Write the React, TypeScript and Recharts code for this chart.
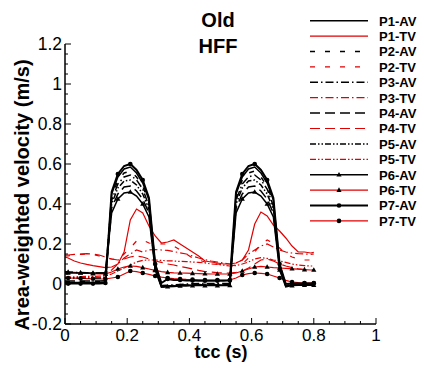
import React from 'react';
import { LineChart, Line, XAxis, YAxis } from 'recharts';

const FONT = 'Liberation Sans, Arial, Helvetica, sans-serif';
const RED = '#e00000';
const BLACK = '#000000';

const TIME = [0, 0.01, 0.03, 0.05, 0.07, 0.09, 0.11, 0.13, 0.15, 0.17, 0.19, 0.21, 0.23, 0.25, 0.27, 0.29, 0.31, 0.33, 0.35, 0.37, 0.39, 0.41, 0.43, 0.45, 0.47, 0.49, 0.51, 0.53, 0.55, 0.57, 0.59, 0.61, 0.63, 0.65, 0.67, 0.69, 0.71, 0.73, 0.75, 0.77, 0.79, 0.8];

const P1_AV = [0.008, 0.008, 0.008, 0.008, 0.008, 0.008, 0.008, 0.01, 0.45, 0.535, 0.575, 0.585, 0.555, 0.505, 0.42, 0.1, -0.012, -0.012, -0.01, -0.008, -0.007, -0.006, -0.005, -0.005, -0.005, -0.005, -0.005, -0.004, 0.45, 0.535, 0.575, 0.585, 0.555, 0.505, 0.42, 0.1, -0.01, -0.005, -0.003, -0.003, -0.003, -0.003];
const P1_TV = [0.135, 0.13, 0.115, 0.105, 0.098, 0.092, 0.087, 0.082, 0.085, 0.1, 0.16, 0.32, 0.375, 0.355, 0.29, 0.24, 0.205, 0.21, 0.22, 0.2, 0.18, 0.16, 0.14, 0.115, 0.11, 0.105, 0.1, 0.1, 0.105, 0.12, 0.17, 0.3, 0.36, 0.34, 0.295, 0.265, 0.23, 0.19, 0.16, 0.16, 0.155, 0.158];
const P2_AV = [0.012, 0.012, 0.012, 0.012, 0.012, 0.012, 0.012, 0.014, 0.43, 0.52, 0.555, 0.565, 0.535, 0.49, 0.405, 0.09, -0.01, -0.01, -0.008, -0.006, -0.005, -0.004, -0.003, -0.003, -0.003, -0.003, -0.003, -0.002, 0.43, 0.52, 0.555, 0.565, 0.535, 0.49, 0.405, 0.09, -0.008, -0.004, -0.002, -0.002, -0.002, -0.002];
const P2_TV = [0.14, 0.14, 0.145, 0.148, 0.15, 0.148, 0.14, 0.13, 0.125, 0.12, 0.15, 0.18, 0.215, 0.22, 0.205, 0.2, 0.2, 0.2, 0.19, 0.17, 0.15, 0.13, 0.12, 0.11, 0.105, 0.1, 0.095, 0.09, 0.095, 0.1, 0.13, 0.16, 0.2, 0.22, 0.205, 0.18, 0.15, 0.135, 0.125, 0.12, 0.12, 0.12];
const P3_AV = [0.062, 0.06, 0.058, 0.057, 0.056, 0.055, 0.055, 0.055, 0.42, 0.5, 0.535, 0.545, 0.52, 0.475, 0.39, 0.09, -0.008, -0.006, -0.004, -0.002, 0, 0.001, 0.002, 0.002, 0.002, 0.002, 0.002, 0.003, 0.42, 0.5, 0.535, 0.545, 0.52, 0.475, 0.39, 0.09, -0.006, 0, 0.002, 0.002, 0.002, 0.002];
const P3_TV = [0.06, 0.06, 0.058, 0.056, 0.055, 0.054, 0.053, 0.055, 0.07, 0.1, 0.13, 0.15, 0.17, 0.16, 0.17, 0.172, 0.17, 0.168, 0.162, 0.156, 0.15, 0.14, 0.13, 0.122, 0.115, 0.11, 0.105, 0.1, 0.105, 0.12, 0.15, 0.17, 0.19, 0.2, 0.185, 0.17, 0.16, 0.155, 0.152, 0.15, 0.148, 0.15];
const P4_AV = [0.015, 0.015, 0.015, 0.015, 0.015, 0.015, 0.015, 0.016, 0.38, 0.45, 0.485, 0.49, 0.465, 0.425, 0.355, 0.08, -0.012, -0.01, -0.008, -0.006, -0.005, -0.004, -0.004, -0.004, -0.004, -0.004, -0.004, -0.003, 0.38, 0.45, 0.485, 0.49, 0.465, 0.425, 0.355, 0.08, -0.01, -0.004, -0.003, -0.003, -0.003, -0.003];
const P4_TV = [0.145, 0.145, 0.148, 0.15, 0.152, 0.15, 0.145, 0.135, 0.125, 0.12, 0.125, 0.135, 0.14, 0.135, 0.125, 0.115, 0.108, 0.1, 0.095, 0.088, 0.082, 0.075, 0.068, 0.062, 0.06, 0.057, 0.055, 0.055, 0.058, 0.065, 0.08, 0.1, 0.12, 0.125, 0.115, 0.1, 0.09, 0.082, 0.076, 0.072, 0.07, 0.07];
const P5_AV = [0.03, 0.03, 0.03, 0.03, 0.03, 0.03, 0.03, 0.03, 0.4, 0.48, 0.515, 0.52, 0.495, 0.45, 0.375, 0.08, -0.014, -0.012, -0.01, -0.008, -0.007, -0.006, -0.006, -0.006, -0.006, -0.006, -0.006, -0.005, 0.4, 0.48, 0.515, 0.52, 0.495, 0.45, 0.375, 0.08, -0.012, -0.006, -0.004, -0.004, -0.004, -0.004];
const P5_TV = [0.035, 0.035, 0.036, 0.037, 0.038, 0.038, 0.039, 0.04, 0.05, 0.065, 0.08, 0.095, 0.11, 0.118, 0.12, 0.12, 0.118, 0.116, 0.115, 0.113, 0.112, 0.11, 0.108, 0.105, 0.1, 0.098, 0.094, 0.09, 0.092, 0.1, 0.11, 0.125, 0.132, 0.128, 0.12, 0.115, 0.108, 0.1, 0.095, 0.092, 0.09, 0.09];
const P6_AV = [0.055, 0.055, 0.055, 0.055, 0.055, 0.055, 0.055, 0.056, 0.355, 0.425, 0.455, 0.46, 0.44, 0.4, 0.335, 0.07, -0.016, -0.014, -0.012, -0.01, -0.009, -0.008, -0.008, -0.008, -0.008, -0.008, -0.008, -0.007, 0.355, 0.425, 0.455, 0.46, 0.44, 0.4, 0.335, 0.07, -0.014, -0.008, -0.006, -0.006, -0.006, -0.006];
const P6_TV = [0.06, 0.06, 0.058, 0.056, 0.054, 0.052, 0.05, 0.05, 0.06, 0.075, 0.085, 0.09, 0.088, 0.082, 0.075, 0.068, 0.062, 0.058, 0.056, 0.055, 0.054, 0.053, 0.052, 0.051, 0.05, 0.05, 0.05, 0.05, 0.055, 0.065, 0.075, 0.085, 0.088, 0.085, 0.082, 0.08, 0.078, 0.076, 0.074, 0.072, 0.07, 0.07];
const P7_AV = [0.002, 0.002, 0.002, 0.002, 0.002, 0.002, 0.002, 0.005, 0.46, 0.55, 0.59, 0.6, 0.57, 0.52, 0.43, 0.1, 0.005, 0.025, 0.02, 0.02, 0.018, 0.017, 0.016, 0.016, 0.016, 0.016, 0.016, 0.018, 0.46, 0.55, 0.59, 0.6, 0.57, 0.52, 0.43, 0.1, 0, 0.003, 0.003, 0.003, 0.003, 0.003];
const P7_TV = [0.03, 0.03, 0.029, 0.028, 0.027, 0.026, 0.025, 0.025, 0.03, 0.035, 0.05, 0.065, 0.062, 0.055, 0.048, 0.04, 0.034, 0.03, 0.027, 0.025, 0.023, 0.022, 0.021, 0.02, 0.02, 0.02, 0.02, 0.02, 0.03, 0.045, 0.052, 0.055, 0.053, 0.05, 0.04, 0.03, 0.018, 0.01, 0.007, 0.005, 0.005, 0.005];

const X_TICKS = [0, 0.05, 0.1, 0.15, 0.2, 0.25, 0.3, 0.35, 0.4, 0.45, 0.5, 0.55, 0.6, 0.65, 0.7, 0.75, 0.8, 0.85, 0.9, 0.95, 1];
const Y_TICKS = [-0.2, -0.15, -0.1, -0.05, 0, 0.05, 0.1, 0.15, 0.2, 0.25, 0.3, 0.35, 0.4, 0.45, 0.5, 0.55, 0.6, 0.65, 0.7, 0.75, 0.8, 0.85, 0.9, 0.95, 1, 1.05, 1.1, 1.15, 1.2];

const TITLE_LINES = ['Old', 'HFF'];
const X_LABEL = 'tcc (s)';
const Y_LABEL = 'Area-weighted velocity (m/s)';

type Marker = 'none' | 'tri' | 'circ';
interface SeriesDef { key: string; name: string; values: number[]; color: string; dash?: string; marker: Marker; width: number; }

const DASH_SHORT = '5 10';
const DASH_DOT = '8 3 1.5 3';
const DASH_LONG = '10 5';
const DASH_DOT_DOT = '6 2 1.5 2 1.5 2';

const SERIES: SeriesDef[] = [
  { key: 'p1av', name: 'P1-AV', values: P1_AV, color: BLACK, marker: 'none', width: 1.5 },
  { key: 'p1tv', name: 'P1-TV', values: P1_TV, color: RED, marker: 'none', width: 1.2 },
  { key: 'p2av', name: 'P2-AV', values: P2_AV, color: BLACK, dash: DASH_SHORT, marker: 'none', width: 1.5 },
  { key: 'p2tv', name: 'P2-TV', values: P2_TV, color: RED, dash: DASH_SHORT, marker: 'none', width: 1.2 },
  { key: 'p3av', name: 'P3-AV', values: P3_AV, color: BLACK, dash: DASH_DOT, marker: 'none', width: 1.5 },
  { key: 'p3tv', name: 'P3-TV', values: P3_TV, color: RED, dash: DASH_DOT, marker: 'none', width: 1.2 },
  { key: 'p4av', name: 'P4-AV', values: P4_AV, color: BLACK, dash: DASH_LONG, marker: 'none', width: 1.5 },
  { key: 'p4tv', name: 'P4-TV', values: P4_TV, color: RED, dash: DASH_LONG, marker: 'none', width: 1.2 },
  { key: 'p5av', name: 'P5-AV', values: P5_AV, color: BLACK, dash: DASH_DOT_DOT, marker: 'none', width: 1.5 },
  { key: 'p5tv', name: 'P5-TV', values: P5_TV, color: RED, dash: DASH_DOT_DOT, marker: 'none', width: 1.2 },
  { key: 'p6av', name: 'P6-AV', values: P6_AV, color: BLACK, marker: 'tri', width: 1.5 },
  { key: 'p6tv', name: 'P6-TV', values: P6_TV, color: RED, marker: 'tri', width: 1.2 },
  { key: 'p7av', name: 'P7-AV', values: P7_AV, color: BLACK, marker: 'circ', width: 2 },
  { key: 'p7tv', name: 'P7-TV', values: P7_TV, color: RED, marker: 'circ', width: 1.2 },
];

const rows = TIME.map((t, i) => {
  const r: Record<string, number> = { t };
  SERIES.forEach((s) => { r[s.key] = s.values[i]; });
  return r;
});

const isMajor = (v: number) => Math.abs(v * 5 - Math.round(v * 5)) < 1e-6;
const fmt = (v: number) => String(Number(v.toFixed(2)));

const XTick = (props: any) => {
  const { x, y, payload } = props;
  const v = payload.value as number;
  const major = isMajor(v);
  return (
    <g>
      <line x1={x} x2={x} y1={y} y2={y - (major ? 6 : 3)} stroke={BLACK} strokeWidth={1} />
      {major && (
        <text x={x} y={y + 16.5} textAnchor="middle" fontSize={17} fontFamily={FONT} fill={BLACK}>{fmt(v)}</text>
      )}
    </g>
  );
};

const YTick = (props: any) => {
  const { x, y, payload } = props;
  const v = payload.value as number;
  const major = isMajor(v);
  return (
    <g>
      <line x1={x} x2={x + (major ? 6 : 3)} y1={y} y2={y} stroke={BLACK} strokeWidth={1} />
      {major && (
        <text x={x - 3} y={y + 6.2} textAnchor="end" fontSize={17.5} fontFamily={FONT} fill={BLACK}>{fmt(v)}</text>
      )}
    </g>
  );
};

const markerShape = (kind: Marker, cx: number, cy: number, key: string) => {
  if (kind === 'circ') return <circle key={key} cx={cx} cy={cy} r={2.3} fill={BLACK} />;
  return <path key={key} d={`M${cx},${cy - 2.8}L${cx + 2.6},${cy + 1.8}L${cx - 2.6},${cy + 1.8}Z`} fill={BLACK} />;
};

const makeDot = (s: SeriesDef) => (props: any) => {
  const { cx, cy, index } = props;
  const key = `${s.key}-${index}`;
  if (index % 2 !== 1 || cx == null || cy == null) return <g key={key} />;
  return markerShape(s.marker, cx, cy, key);
};

const Overlay = () => {
  const rowY = (k: number) => 20.7 + 15.4 * k;
  return (
    <svg width={424} height={368} style={{ position: 'absolute', left: 0, top: 0, pointerEvents: 'none' }}>
      <text x={218} y={27} textAnchor="middle" fontSize={20} fontWeight="bold" fontFamily={FONT}>{TITLE_LINES[0]}</text>
      <text x={218} y={53} textAnchor="middle" fontSize={20} fontWeight="bold" fontFamily={FONT}>{TITLE_LINES[1]}</text>
      <text x={221} y={358} textAnchor="middle" fontSize={18} fontWeight="bold" fontFamily={FONT}>{X_LABEL}</text>
      <text x={29} y={195} textAnchor="middle" fontSize={20} fontWeight="bold" fontFamily={FONT} transform="rotate(-90 29 195)">{Y_LABEL}</text>
      {SERIES.map((s, k) => (
        <g key={s.key}>
          <line x1={310} x2={368} y1={rowY(k)} y2={rowY(k)} stroke={s.color} strokeWidth={s.width} strokeDasharray={s.dash} />
          {s.marker !== 'none' && markerShape(s.marker, 339, rowY(k), `lm-${s.key}`)}
          <text x={379} y={rowY(k) + 4.8} fontSize={13} fontWeight="bold" fontFamily={FONT}>{s.name}</text>
        </g>
      ))}
    </svg>
  );
};

export default function App() {
  const ordered = [...SERIES.filter((s) => s.color === RED), ...SERIES.filter((s) => s.color === BLACK)];
  return (
    <div style={{ position: 'absolute', left: 0, top: 0, width: 424, height: 368, background: '#fff' }}>
      <LineChart width={424} height={368} data={rows} margin={{ top: 44, right: 48, bottom: 0, left: 0 }}>
        <XAxis
          dataKey="t"
          type="number"
          domain={[0, 1]}
          ticks={X_TICKS}
          interval={0}
          height={44}
          tickSize={0}
          tickMargin={0}
          tickLine={false}
          axisLine={{ stroke: BLACK, strokeWidth: 1.5 }}
          tick={<XTick />}
        />
        <YAxis
          type="number"
          domain={[-0.2, 1.2]}
          ticks={Y_TICKS}
          interval={0}
          width={65}
          tickSize={0}
          tickMargin={0}
          tickLine={false}
          allowDataOverflow
          axisLine={{ stroke: BLACK, strokeWidth: 1.5 }}
          tick={<YTick />}
        />
        {ordered.map((s) => (
          <Line
            key={s.key}
            type="linear"
            dataKey={s.key}
            name={s.name}
            stroke={s.color}
            strokeWidth={s.width}
            strokeDasharray={s.dash}
            dot={s.marker === 'none' ? false : makeDot(s)}
            activeDot={false}
            isAnimationActive={false}
          />
        ))}
      </LineChart>
      <Overlay />
    </div>
  );
}
